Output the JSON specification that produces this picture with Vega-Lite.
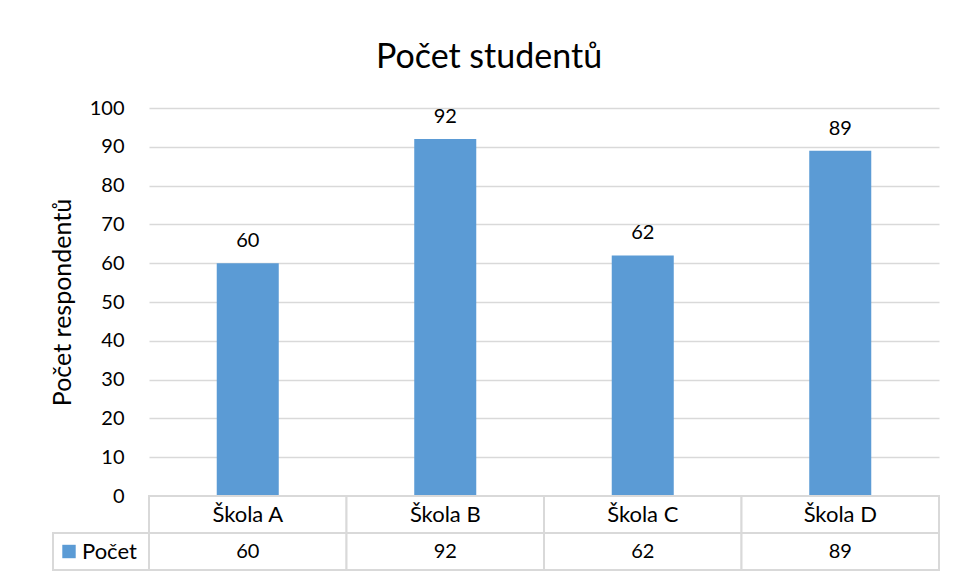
{
  "$schema": "https://vega.github.io/schema/vega-lite/v6.json",
  "background": "white",
  "padding": {"left": 50, "top": 41, "right": 10, "bottom": 5},
  "datasets": {
    "schools": [
      {"skola": "Škola A", "pocet": 60},
      {"skola": "Škola B", "pocet": 92},
      {"skola": "Škola C", "pocet": 62},
      {"skola": "Škola D", "pocet": 89}
    ]
  },
  "columns": 2,
  "spacing": 0,
  "bounds": "flush",
  "concat": [
    {
      "width": 96,
      "height": 388,
      "data": {"values": []},
      "mark": "point"
    },
    {
      "width": 790,
      "height": 388,
      "title": {"text": "Počet studentů", "fontSize": 34, "font": "Lato", "fontWeight": "normal", "color": "black", "anchor": "middle", "baseline": "alphabetic", "offset": -4, "dx": -55},
      "data": {"name": "schools"},
      "encoding": {
        "x": {"field": "skola", "type": "nominal", "sort": null, "scale": {"paddingInner": 0, "paddingOuter": 0}, "axis": null},
        "y": {
          "field": "pocet", "type": "quantitative",
          "scale": {"domain": [0, 100]},
          "axis": {
            "title": "Počet respondentů",
            "values": [0, 10, 20, 30, 40, 50, 60, 70, 80, 90, 100],
            "labelOverlap": false,
            "domain": false, "ticks": false, "labelPadding": 25,
            "labelFontSize": 20, "labelFont": "Lato", "labelColor": "black",
            "gridColor": "#d9d9d9", "gridWidth": 1.5,
            "titleFontSize": 25, "titleFont": "Lato", "titleFontWeight": "normal", "titleColor": "black", "titlePadding": 14
          }
        }
      },
      "layer": [
        {
          "mark": {"type": "bar", "width": {"band": 0.314}, "color": "#5b9bd5"}
        },
        {
          "mark": {"type": "text", "baseline": "alphabetic", "dy": -16, "fontSize": 20, "font": "Lato", "color": "black"},
          "encoding": {
            "text": {"field": "pocet"}
          }
        }
      ]
    },
    {
      "width": 96,
      "height": 74,
      "data": {"values": [{"rada": "Počet"}]},
      "encoding": {
        "y": {"datum": "val", "type": "nominal", "scale": {"domain": ["cat", "val"], "paddingInner": 0, "paddingOuter": 0}, "axis": null}
      },
      "layer": [
        {"mark": {"type": "rect", "fill": "white", "stroke": "#d9d9d9", "strokeWidth": 2}, "encoding": {}},
        {"mark": {"type": "square", "size": 180, "filled": true, "color": "#5b9bd5", "opacity": 1, "xOffset": -32}, "encoding": {}},
        {"mark": {"type": "text", "align": "left", "dx": -19, "fontSize": 22, "font": "Lato", "color": "black"}, "encoding": {"text": {"field": "rada"}}}
      ]
    },
    {
      "width": 790,
      "height": 74,
      "data": {"name": "schools"},
      "encoding": {
        "x": {"field": "skola", "type": "nominal", "sort": null, "scale": {"paddingInner": 0, "paddingOuter": 0}, "axis": null}
      },
      "layer": [
        {"mark": {"type": "rect", "fill": "white", "stroke": "#d9d9d9", "strokeWidth": 2},
         "encoding": {"y": {"datum": "cat", "type": "nominal", "scale": {"domain": ["cat", "val"], "paddingInner": 0, "paddingOuter": 0}, "axis": null}}},
        {"mark": {"type": "rect", "fill": "white", "stroke": "#d9d9d9", "strokeWidth": 2},
         "encoding": {"y": {"datum": "val", "type": "nominal"}}},
        {"mark": {"type": "text", "fontSize": 22, "font": "Lato", "color": "black"},
         "encoding": {"y": {"datum": "cat", "type": "nominal"}, "text": {"field": "skola"}}},
        {"mark": {"type": "text", "fontSize": 20, "font": "Lato", "color": "black"},
         "encoding": {"y": {"datum": "val", "type": "nominal"}, "text": {"field": "pocet"}}}
      ]
    }
  ],
  "config": {
    "view": {"stroke": null},
    "font": "Lato"
  }
}
